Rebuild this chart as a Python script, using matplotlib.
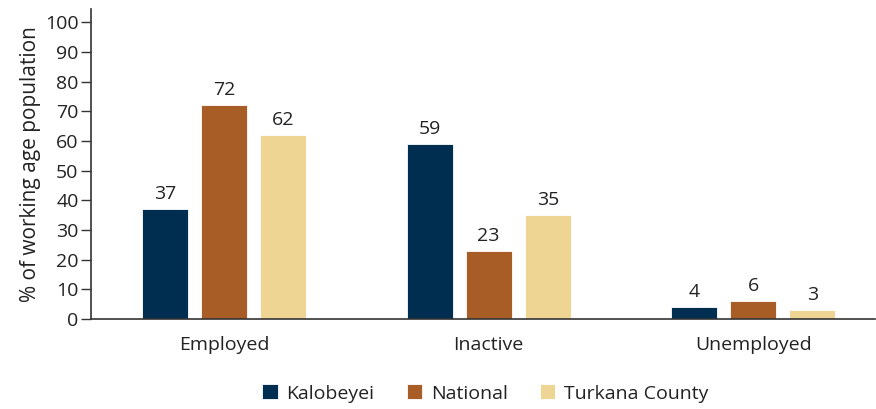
import matplotlib.pyplot as plt
import numpy as np

categories = ['Employed', 'Inactive', 'Unemployed']
series = ['Kalobeyei', 'National', 'Turkana County']
kalobeyei = [37, 59, 4]
national = [72, 23, 6]
turkana = [62, 35, 3]
colors = ['#002e51', '#a85d27', '#efd594']

plt.rcParams['font.family'] = ['Open Sans', 'DejaVu Sans']
FS = 14

fig = plt.figure(figsize=(8.76, 4.09), dpi=100)
ax = fig.add_axes([0.104, 0.22, 0.895, 0.758])

x = np.arange(len(categories))
width = 0.174
step = 0.223
for i, (name, vals) in enumerate(zip(series, [kalobeyei, national, turkana])):
    bars = ax.bar(x + (i - 1) * step, vals, width, color=colors[i], label=name,
                  edgecolor='white', linewidth=0.6)
    for b, v in zip(bars, vals):
        ax.annotate(str(v), (b.get_x() + b.get_width() / 2, v), xytext=(0, 4.5),
                    textcoords='offset points', ha='center', va='bottom',
                    fontsize=FS, color='#222222')

ax.set_xlim(-0.502, 2.46)
ax.set_ylim(0, 104.5)
ax.set_yticks(range(0, 101, 10))
ax.set_xticks(x)
ax.set_xticklabels(categories)
ax.tick_params(axis='x', length=0, pad=12, labelsize=FS, labelcolor='#222222')
ax.tick_params(axis='y', length=7, width=1, color='#333333', pad=2,
               labelsize=FS, labelcolor='#222222')
for s in ['top', 'right']:
    ax.spines[s].set_visible(False)
for s in ['left', 'bottom']:
    ax.spines[s].set_color('#333333')
    ax.spines[s].set_linewidth(1.2)
ax.set_ylabel('% of working age population', fontsize=15, color='#222222', labelpad=3)

fig.legend(loc='center', bbox_to_anchor=(0.554, 0.038), ncol=3, frameon=False,
           fontsize=FS, handlelength=0.8, handleheight=0.8, handletextpad=0.45,
           columnspacing=1.65, labelcolor='#222222')

fig.savefig('out.png', dpi=100)
